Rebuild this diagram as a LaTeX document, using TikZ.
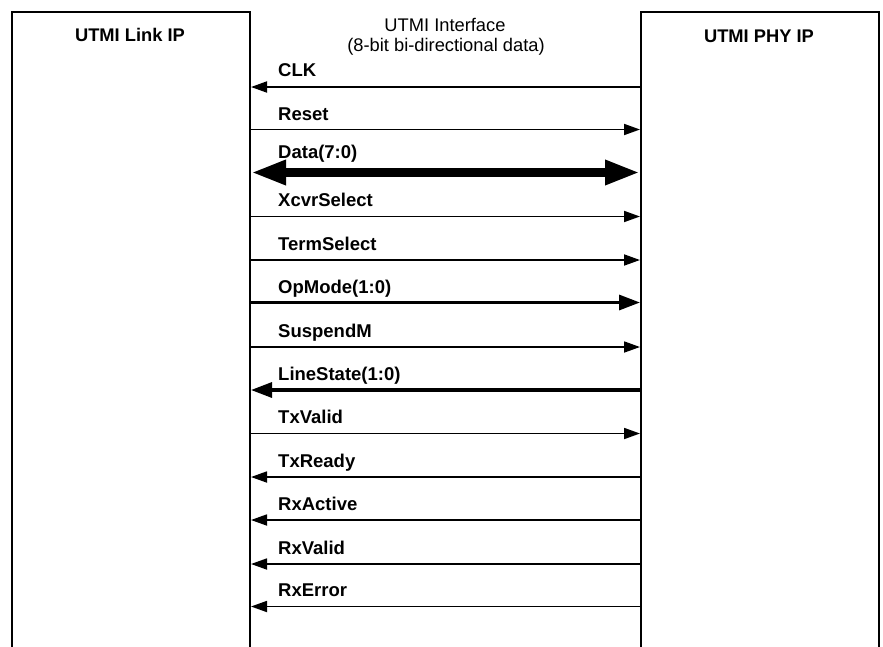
\documentclass[tikz,border=0pt]{standalone}
\usepackage{fontspec}
\setmainfont{Liberation Sans}
\usetikzlibrary{arrows.meta}
\tikzset{
  box/.style={draw, line width=2pt, minimum width=238pt, minimum height=700pt, anchor=north west, inner sep=0pt},
  title/.style={font=\fontsize{18.3pt}{20pt}\selectfont\bfseries, anchor=base},
  iftext/.style={font=\fontsize{18.3pt}{18pt}\selectfont, align=center, anchor=base},
  sig/.style={line width=1.8pt, -{Triangle[length=16pt,width=11pt]}},
  thicksig/.style={line width=3.2pt, -{Triangle[length=21pt,width=15pt]}},
  bussig/.style={line width=9pt, {Triangle[length=35pt,width=23pt]}-{Triangle[length=35pt,width=23pt]}},
  lbl/.style={font=\fontsize{18.5pt}{19pt}\selectfont\bfseries, anchor=base west, inner sep=0pt}
}
\begin{document}
\begin{tikzpicture}[x=1pt,y=-1pt]
\useasboundingbox (0,0) rectangle (883,646);
\clip (0,0) rectangle (883,646);
\fill[white] (0,0) rectangle (883,646);
\node[box] (link) at (11,10.5) {};
\node[box] (phy) at (640,10.5) {};
\node[title] (lt) at (130,41.5) {UTMI Link IP};
\node[title] (pt) at (759,42.5) {UTMI PHY IP};
\node[iftext] (it) at (445,31.5) {UTMI Interface};
\node[iftext] (it2) at (446,51.5) {(8-bit bi-directional data)};
% signals
\draw[sig] (phy.west |- 0,87) -- (link.east |- 0,87);
\node[lbl] (l1) at (278,76) {CLK};
\draw[sig] (link.east |- 0,129.5) -- (phy.west |- 0,129.5);
\node[lbl] (l2) at (278,120) {Reset};
\draw[bussig] (link.east |- 0,172.5) -- (phy.west |- 0,172.5);
\node[lbl] (l3) at (278,158.5) {Data(7:0)};
\draw[sig] (link.east |- 0,216.5) -- (phy.west |- 0,216.5);
\node[lbl] (l4) at (278,206.5) {XcvrSelect};
\draw[sig] (link.east |- 0,260) -- (phy.west |- 0,260);
\node[lbl] (l5) at (278,250) {TermSelect};
\draw[thicksig] (link.east |- 0,302.5) -- (phy.west |- 0,302.5);
\node[lbl] (l6) at (278,293) {OpMode(1:0)};
\draw[sig] (link.east |- 0,347) -- (phy.west |- 0,347);
\node[lbl] (l7) at (278,337) {SuspendM};
\draw[thicksig] (phy.west |- 0,390) -- (link.east |- 0,390);
\node[lbl] (l8) at (278,380) {LineState(1:0)};
\draw[sig] (link.east |- 0,433.5) -- (phy.west |- 0,433.5);
\node[lbl] (l9) at (278,423.5) {TxValid};
\draw[sig] (phy.west |- 0,477) -- (link.east |- 0,477);
\node[lbl] (l10) at (278,467) {TxReady};
\draw[sig] (phy.west |- 0,520) -- (link.east |- 0,520);
\node[lbl] (l11) at (278,510) {RxActive};
\draw[sig] (phy.west |- 0,564) -- (link.east |- 0,564);
\node[lbl] (l12) at (278,554) {RxValid};
\draw[sig] (phy.west |- 0,606.5) -- (link.east |- 0,606.5);
\node[lbl] (l13) at (278,596.5) {RxError};
\end{tikzpicture}
\end{document}
